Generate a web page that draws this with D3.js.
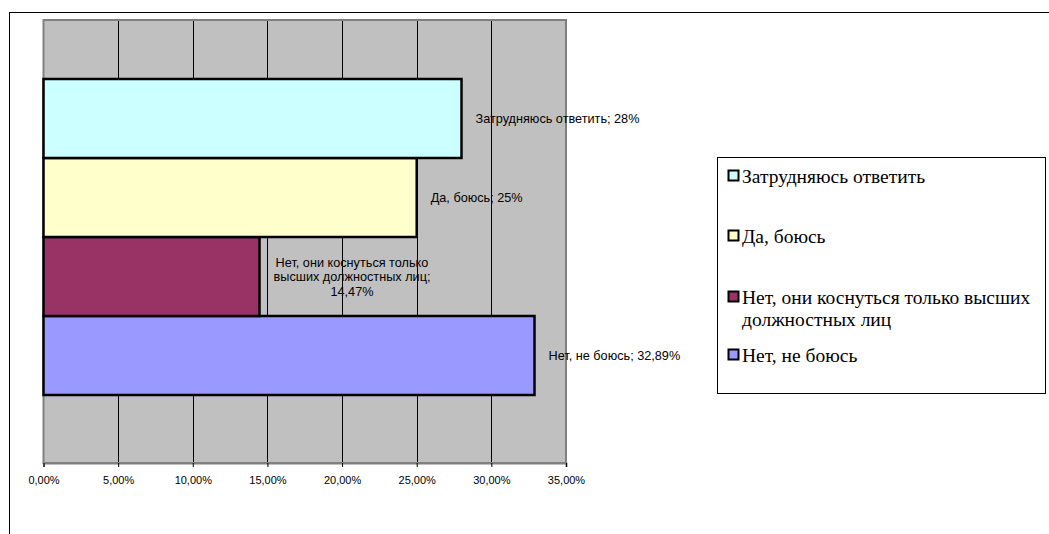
<!DOCTYPE html>
<html>
<head>
<meta charset="utf-8">
<script src="https://cdn.jsdelivr.net/npm/d3@7/dist/d3.min.js"></script>
<style>
  html, body { margin: 0; padding: 0; background: #fff; }
  svg { display: block; }
</style>
</head>
<body>
<svg id="chart" width="1049" height="534"></svg>
<script>
// Survey answers, bottom bar first
const series = [
  "Нет, не боюсь",
  "Нет, они коснуться только высших должностных лиц",
  "Да, боюсь",
  "Затрудняюсь ответить"
];
const values = [32.89, 14.47, 25, 28];
const labelLines = [
  ["Нет, не боюсь; 32,89%"],
  ["Нет, они коснуться только", "высших должностных лиц;", "14,47%"],
  ["Да, боюсь; 25%"],
  ["Затрудняюсь ответить; 28%"]
];
const colors = ["#9999FF", "#993366", "#FFFFCC", "#CCFFFF"];
const xTicks = [0, 5, 10, 15, 20, 25, 30, 35];
const tickLabels = ["0,00%", "5,00%", "10,00%", "15,00%", "20,00%", "25,00%", "30,00%", "35,00%"];
// Legend reads top to bottom
const legendOrder = [3, 2, 1, 0];
const legendLines = [
  ["Затрудняюсь ответить"],
  ["Да, боюсь"],
  ["Нет, они коснуться только высших", "должностных лиц"],
  ["Нет, не боюсь"]
];

const svg = d3.select("#chart");
const plot = { left: 43.5, right: 566, top: 20, bottom: 463 };

// outer chart frame
svg.append("rect")
  .attr("x", 9.5).attr("y", 12.5).attr("width", 1100).attr("height", 600)
  .attr("fill", "#fff").attr("stroke", "#000").attr("stroke-width", 1);

const x = d3.scaleLinear().domain([0, 35]).range([plot.left, plot.right]);
const y = d3.scaleBand()
  .domain(series.slice().reverse())
  .range([79, 395])
  .paddingInner(0);

// plot background
svg.append("rect")
  .attr("x", plot.left).attr("y", plot.top)
  .attr("width", plot.right - plot.left).attr("height", plot.bottom - plot.top)
  .attr("fill", "#C0C0C0");

// vertical gridlines
svg.append("g").selectAll("line")
  .data(xTicks.slice(1, -1))
  .join("line")
  .attr("x1", d => Math.round(x(d)) + 0.5).attr("x2", d => Math.round(x(d)) + 0.5)
  .attr("y1", plot.top).attr("y2", plot.bottom)
  .attr("stroke", "#000").attr("stroke-width", 1);

// plot border
svg.append("rect")
  .attr("x", plot.left).attr("y", plot.top)
  .attr("width", plot.right - plot.left).attr("height", plot.bottom - plot.top)
  .attr("fill", "none").attr("stroke", "#808080").attr("stroke-width", 2);

// bars
svg.append("g").selectAll("rect")
  .data(series)
  .join("rect")
  .attr("x", x(0))
  .attr("y", d => y(d))
  .attr("width", (d, i) => x(values[i]) - x(0))
  .attr("height", y.bandwidth())
  .attr("fill", (d, i) => colors[i])
  .attr("stroke", "#000").attr("stroke-width", 2.5);

// x axis
const axis = d3.axisBottom(x)
  .tickValues(xTicks)
  .tickFormat((d, i) => tickLabels[i])
  .tickSize(4)
  .tickPadding(9);
const ax = svg.append("g")
  .attr("transform", `translate(0,${plot.bottom})`)
  .call(axis);
ax.select(".domain").attr("stroke", "#808080").attr("stroke-width", 2);
ax.selectAll(".tick line").attr("stroke", "#000");
ax.selectAll(".tick text")
  .attr("fill", "#000")
  .style("font-family", "'Liberation Sans', Arial, sans-serif")
  .style("font-size", "11px");

// data labels, block starts just right of each bar end
const labels = svg.append("g")
  .style("font-family", "'Liberation Sans', Arial, sans-serif")
  .style("font-size", "12.7px")
  .attr("fill", "#000");
series.forEach((s, i) => {
  const lines = labelLines[i];
  const g = labels.append("g");
  const t = g.append("text").attr("text-anchor", "middle");
  const lh = 14.5;
  const cy = y(s) + y.bandwidth() / 2;
  lines.forEach((ln, j) => {
    t.append("tspan")
      .attr("x", 0)
      .attr("y", cy + (j - (lines.length - 1) / 2) * lh + 4.5)
      .text(ln);
  });
  let maxW = 0;
  t.selectAll("tspan").each(function () {
    maxW = Math.max(maxW, this.getComputedTextLength());
  });
  g.attr("transform", `translate(${x(values[i]) + 14 + maxW / 2},0)`);
});

// legend
const legend = { left: 717.5, top: 157.5, right: 1045.5, bottom: 393.5 };
svg.append("rect")
  .attr("x", legend.left).attr("y", legend.top)
  .attr("width", legend.right - legend.left).attr("height", legend.bottom - legend.top)
  .attr("fill", "#fff").attr("stroke", "#000").attr("stroke-width", 1);

const legendBase = [183, 243, 304, 362];
const lg = svg.append("g")
  .style("font-family", "'Liberation Serif', 'Times New Roman', serif")
  .style("font-size", "19.5px")
  .attr("fill", "#000");
legendOrder.forEach((si, k) => {
  const by = legendBase[k];
  lg.append("rect")
    .attr("x", 728.5).attr("y", by - 12.5)
    .attr("width", 10).attr("height", 10)
    .attr("fill", colors[si]).attr("stroke", "#000").attr("stroke-width", 2);
  const t = lg.append("text");
  legendLines[k].forEach((ln, j) => {
    t.append("tspan")
      .attr("x", 742)
      .attr("y", by + j * 22)
      .text(ln);
  });
});
</script>
</body>
</html>
